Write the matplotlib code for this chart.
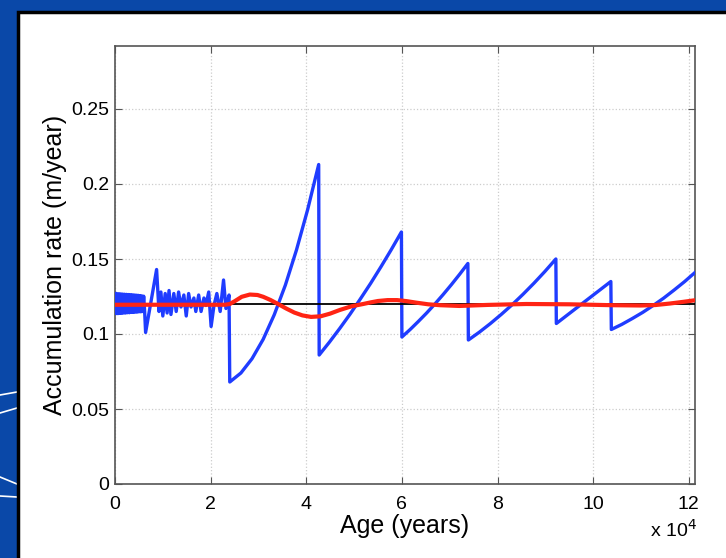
import numpy as np
import matplotlib
matplotlib.use('Agg')
import matplotlib.pyplot as plt
from matplotlib.patches import Rectangle
from matplotlib.lines import Line2D

plt.rcParams['font.family'] = ['Liberation Sans', 'DejaVu Sans']

# blue curve: modelled accumulation rate (age in years, rate in m/year)
blue_age = [0, 200, 400, 600, 800, 1000, 1200, 1400, 1600, 1800, 2000, 2200, 2400, 2600,
            2800, 3000, 3200, 3400, 3600, 3800, 4000, 4200, 4400, 4600, 4800, 5000, 5200,
            5400, 5600, 5800, 6000, 6200,
            6400, 8700, 9200, 9600, 10000, 10500, 10900, 11300, 11700, 12300, 12800, 13300,
            13800, 14400, 14900, 15400, 15900, 16500, 16900, 17500, 18000, 18600, 19000,
            19600, 20100, 20700, 21300, 22000, 22700, 23200, 23850,
            24000, 26330, 28650, 30980, 33300, 35630, 37950, 40280, 42600,
            42700, 44850, 47000, 49150, 51300, 53450, 55600, 57750, 59900,
            60000, 61725, 63450, 65175, 66900, 68625, 70350, 72075, 73800,
            73900, 76190, 78480, 80760, 83050, 85340, 87630, 89910, 92200,
            92300, 95150, 98000, 100850, 103700,
            103800, 105990, 108180, 110360, 112550, 114740, 116930, 119110, 121300]
blue_rate = [0.1270, 0.1136, 0.1268, 0.1136, 0.1268, 0.1138, 0.1267, 0.1138, 0.1266, 0.1140,
             0.1265, 0.1140, 0.1264, 0.1142, 0.1263, 0.1142, 0.1262, 0.1144, 0.1261, 0.1144,
             0.1260, 0.1146, 0.1259, 0.1146, 0.1258, 0.1148, 0.1256, 0.1148, 0.1254, 0.1150,
             0.1252, 0.1150,
             0.101, 0.143, 0.115, 0.128, 0.112, 0.127, 0.114, 0.129, 0.113, 0.127, 0.115, 0.128,
             0.118, 0.126, 0.112, 0.127, 0.118, 0.124, 0.115, 0.126, 0.115, 0.124, 0.119,
             0.128, 0.105, 0.119, 0.127, 0.115, 0.136, 0.117, 0.126,
             0.0680, 0.0740, 0.0835, 0.0964, 0.1128, 0.1326, 0.1560, 0.1828, 0.2130,
             0.0860, 0.0946, 0.1037, 0.1132, 0.1233, 0.1337, 0.1447, 0.1561, 0.1680,
             0.0980, 0.1030, 0.1084, 0.1140, 0.1200, 0.1263, 0.1329, 0.1398, 0.1470,
             0.0960, 0.1012, 0.1069, 0.1130, 0.1195, 0.1265, 0.1339, 0.1417, 0.1500,
             0.1070, 0.1140, 0.1210, 0.1280, 0.1350,
             0.1030, 0.1064, 0.1103, 0.1144, 0.1190, 0.1239, 0.1293, 0.1349, 0.1410]

# red curve: smoothed rate
red_age = [0, 23000, 24000, 25000, 26500, 28200, 29800, 31000, 32500, 34100, 35800, 37500,
           39200, 41000, 43000, 45000, 47000, 49500, 51900, 53500, 55000, 57000, 59000, 61000,
           63000, 65500, 68000, 72000, 78000, 86000, 95000, 104000, 110000, 113000, 116000,
           119000, 121300]
red_rate = [0.1195, 0.1195, 0.1200, 0.1218, 0.1248, 0.1263, 0.1260, 0.1248, 0.1227, 0.1200,
            0.1170, 0.1143, 0.1124, 0.1114, 0.1118, 0.1136, 0.1160, 0.1185, 0.1200, 0.1211,
            0.1220, 0.1226, 0.1226, 0.1219, 0.1209, 0.1198, 0.1192, 0.1187, 0.1194, 0.1200,
            0.1198, 0.1192, 0.1190, 0.1193, 0.1203, 0.1215, 0.1225]

# black line: mean rate
mean_age = [0, 121300]
mean_rate = [0.12, 0.12]

x_ticks = [0, 20000, 40000, 60000, 80000, 100000, 120000]
x_labels = ['0', '2', '4', '6', '8', '10', '12']
y_ticks = [0, 0.05, 0.1, 0.15, 0.2, 0.25]
y_labels = ['0', '0.05', '0.1', '0.15', '0.2', '0.25']

fig = plt.figure(figsize=(7.26, 5.58), dpi=100)
fig.patch.set_facecolor('#0a48a8')

# white slide panel with dark border
fig.patches.append(Rectangle((18 / 726, -0.05), 1.1, 1 - 12 / 558 + 0.05,
                             transform=fig.transFigure, facecolor='white',
                             edgecolor='black', linewidth=2.5, zorder=-2))
for (x0, y0, x1, y1) in [(0, 395, 17, 392), (0, 413, 17, 408), (0, 477, 17, 484), (0, 496, 17, 497)]:
    fig.lines.append(Line2D([x0 / 726, x1 / 726], [1 - y0 / 558, 1 - y1 / 558],
                            transform=fig.transFigure, color='white', linewidth=1.2, zorder=-2))

ax = fig.add_axes([115 / 726, 74 / 558, 580 / 726, 438 / 558])
ax.plot(blue_age, blue_rate, color='#1f3cff', linewidth=2.4, zorder=3)
ax.plot(mean_age, mean_rate, color='black', linewidth=1.3, zorder=4)
ax.plot(red_age, red_rate, color='#ff2414', linewidth=3.0, zorder=5)

ax.set_xlim(0, 121300)
ax.set_ylim(0, 0.292)
ax.set_xticks(x_ticks)
ax.set_xticklabels(x_labels)
ax.set_yticks(y_ticks)
ax.set_yticklabels(y_labels)
ax.tick_params(direction='in', top=True, right=True, length=5, width=0.8,
               color='#555555', labelsize=14)
ax.tick_params(axis='x', pad=8.5)
ax.tick_params(axis='y', pad=4)
ax.grid(True, linestyle=':', color='#cccccc', linewidth=0.9)
for s in ax.spines.values():
    s.set_color('#555555')
    s.set_linewidth(1.2)

ax.set_xlabel('Age (years)', fontsize=18, labelpad=1)
ax.set_ylabel('Accumulation rate (m/year)', fontsize=18, labelpad=3)
fig.text(697 / 726, 1 - 530 / 558, 'x 10$^4$', ha='right', va='center', fontsize=14)

fig.savefig('out.png', dpi=100, facecolor=fig.get_facecolor())
